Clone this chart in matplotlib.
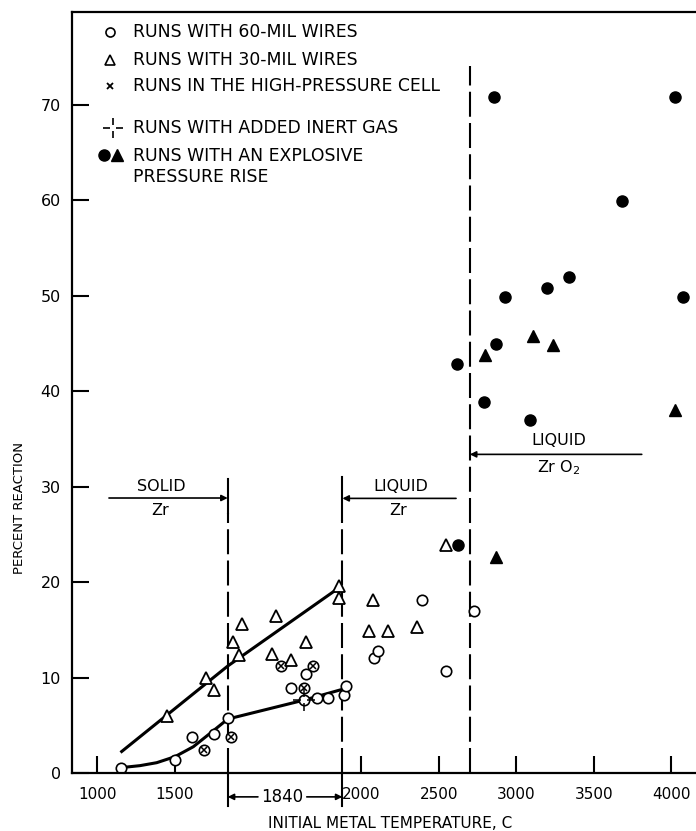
## Import Libraries
import numpy as np
import matplotlib.pyplot as plt
from matplotlib.path import Path


## Data
# x is the position on the broken temperature axis:
#   below 1840 it is the temperature in C, 1840..2580 is the stretched 1840 C band,
#   above the band it is temperature + GAP
GAP = 702
MELT_ZR, BAND_END, MELT_ZRO2 = 1840, 2580, 2700 + GAP
tick_temps = [1000, 1500, 2000, 2500, 3000, 3500, 4000]
tick_pos = [t if t < MELT_ZR else t + GAP for t in tick_temps]
y_ticks = [0, 10, 20, 30, 40, 50, 60, 70]

# runs with 60-mil wires (open circles)
wire60_x = [1150, 1500, 1607, 1753, 1840, 2246, 2345, 2414, 2485, 2590, 2603, 2784, 2812, 3092, 3246, 3431]
wire60_y = [0.55, 1.4, 3.8, 4.05, 5.8, 8.9, 10.4, 7.9, 7.9, 8.2, 9.1, 12.0, 12.8, 18.1, 10.7, 17.0]
# 60-mil runs in the high-pressure cell (circle with x)
hp60_x = [1689, 1861, 2184, 2388, 2334]
hp60_y = [2.4, 3.8, 11.2, 11.2, 8.9]
# 60-mil run with added inert gas
inert_x = [2334]
inert_y = [7.6]
# runs with 30-mil wires (open triangles)
wire30_x = [1446, 1700, 1753, 1872, 1934, 1913, 2151, 2124, 2345, 2248, 2558, 2558, 2751, 2780, 2876, 3063, 3246]
wire30_y = [6.0, 9.9, 8.7, 13.75, 15.6, 12.4, 16.4, 12.5, 13.7, 11.8, 19.6, 18.3, 14.9, 18.1, 14.9, 15.3, 23.9]
# runs with explosive pressure rise
expl60_x = [3560, 4725, 4382, 4044, 3898, 3631, 4780, 3571, 3322, 3496, 3790, 3324]
expl60_y = [70.8, 70.8, 59.9, 51.9, 50.8, 49.9, 49.8, 44.9, 42.8, 38.9, 37.0, 23.9]
expl30_x = [3502, 3808, 3940, 4728, 3571]
expl30_y = [43.8, 45.8, 44.85, 38.0, 22.6]
# hand-drawn trend lines
fit30_x = [1156, 1840, 2558]
fit30_y = [2.25, 11.2, 19.4]
fit60_x = [1150, 1274, 1382, 1500, 1618, 1753, 1840, 2334, 2603]
fit60_y = [0.56, 0.77, 1.08, 1.71, 2.75, 4.5, 5.65, 7.64, 8.87]


## Figure setup
plt.rcParams['font.family'] = 'DejaVu Sans'
fig = plt.figure(figsize=(6.96, 8.31), dpi=100)
ax = fig.add_axes([72 / 696, 58 / 831, 624 / 696, 761 / 831])
ax.set_xlim(835.5, 4861)
ax.set_ylim(0, 79.7)
for side in ['left', 'bottom', 'top']:
    ax.spines[side].set_linewidth(1.6)
ax.spines['right'].set_visible(False)
ax.set_xticks(tick_pos)
ax.set_xticklabels([str(t) for t in tick_temps])
ax.set_yticks(y_ticks)
ax.tick_params(axis='x', direction='in', length=12, width=1.5, labelsize=11, pad=10)
ax.tick_params(axis='y', direction='in', length=12, width=1.5, labelsize=11.5, pad=8)
ax.set_xlabel('INITIAL METAL TEMPERATURE, C', fontsize=11)
ax.xaxis.set_label_coords(0.51, -0.056)
ax.set_ylabel('PERCENT REACTION', fontsize=9.5)
ax.yaxis.set_label_coords(-0.073, 0.348)

# inert-gas marker: a plus with a gap in the middle
inert_marker = Path([(0, 0.25), (0, 1), (0, -0.25), (0, -1), (-1, 0), (-0.3, 0), (0.3, 0), (1, 0)],
                    [Path.MOVETO, Path.LINETO] * 4)


## Boundaries
dash = dict(color='k', lw=1.5, dashes=(12, 3))
ax.plot([MELT_ZR, MELT_ZR], [0, 27.2], **dash)
ax.plot([MELT_ZR, MELT_ZR], [27.2, 30.8], color='k', lw=1.5)
ax.plot([MELT_ZR, MELT_ZR], [0, -3.5], color='k', lw=1.5, clip_on=False)
ax.plot([BAND_END, BAND_END], [0, 26.5], **dash)
ax.plot([BAND_END, BAND_END], [26.5, 31.0], color='k', lw=1.5)
ax.plot([BAND_END, BAND_END], [0, -3.5], color='k', lw=1.5, clip_on=False)
ax.plot([MELT_ZRO2, MELT_ZRO2], [0, 74], **dash)

arrow = dict(arrowstyle='-|>', color='k', lw=1.2, mutation_scale=9, shrinkA=0, shrinkB=0)
ax.annotate('', xy=(MELT_ZR, 28.8), xytext=(1074, 28.8), arrowprops=arrow)
ax.text(1410, 30.05, 'SOLID', ha='center', va='center', fontsize=11.5)
ax.text(1405, 27.5, 'Zr', ha='center', va='center', fontsize=11.5)
ax.annotate('', xy=(BAND_END, 28.76), xytext=(3313, 28.76), arrowprops=arrow)
ax.text(2958, 30.0, 'LIQUID', ha='center', va='center', fontsize=11.5)
ax.text(2940, 27.5, 'Zr', ha='center', va='center', fontsize=11.5)
ax.annotate('', xy=(MELT_ZRO2, 33.37), xytext=(4511, 33.37), arrowprops=arrow)
ax.text(3977, 34.8, 'LIQUID', ha='center', va='center', fontsize=11.5)
ax.text(3977, 32.0, r'Zr O$_2$', ha='center', va='center', fontsize=11.5)
# melting band width note under the axis
ax.annotate('', xy=(MELT_ZR, -2.5), xytext=(2035, -2.5), arrowprops=arrow, annotation_clip=False)
ax.annotate('', xy=(BAND_END, -2.5), xytext=(2350, -2.5), arrowprops=arrow, annotation_clip=False)
ax.text(2193, -2.5, '1840', ha='center', va='center', fontsize=12, clip_on=False)


## Data marks
ax.plot(fit30_x, fit30_y, color='k', lw=2.2)
ax.plot(fit60_x, fit60_y, color='k', lw=2.2)
ms = 7.5
ax.plot(wire60_x, wire60_y, 'o', ms=ms, mfc='white', mec='k', mew=1.2, ls='none')
ax.plot(hp60_x, hp60_y, 'o', ms=ms, mfc='white', mec='k', mew=1.2, ls='none')
ax.plot(hp60_x, hp60_y, 'x', ms=4.5, mec='k', mew=1.1, ls='none')
ax.plot(inert_x, inert_y, 'o', ms=ms, mfc='white', mec='k', mew=1.2, ls='none')
ax.plot(inert_x, inert_y, marker=inert_marker, ms=16, mec='k', mew=1.1, ls='none')
ax.plot(wire30_x, wire30_y, '^', ms=8.5, mfc='white', mec='k', mew=1.3, ls='none')
ax.plot(expl60_x, expl60_y, 'o', ms=8, color='k', ls='none')
ax.plot(expl30_x, expl30_y, '^', ms=9, color='k', ls='none')


## Legend (drawn by hand, no frame)
tr = ax.transAxes
legend_rows = [0.9737, 0.9369, 0.9028, 0.8476, 0.8121]
legend_texts = ['RUNS WITH 60-MIL WIRES', 'RUNS WITH 30-MIL WIRES', 'RUNS IN THE HIGH-PRESSURE CELL',
                'RUNS WITH ADDED INERT GAS', 'RUNS WITH AN EXPLOSIVE\nPRESSURE RISE']
mx, tx = 0.061, 0.098
ax.plot([mx], [legend_rows[0]], 'o', ms=6.5, mfc='white', mec='k', mew=1.2, transform=tr)
ax.plot([mx], [legend_rows[1]], '^', ms=7, mfc='white', mec='k', mew=1.2, transform=tr)
ax.plot([mx], [legend_rows[2]], 'x', ms=5, mec='k', mew=1.3, transform=tr)
ax.plot([mx + 0.005], [legend_rows[3]], marker=inert_marker, ms=15, mec='k', mew=1.2, transform=tr)
ax.plot([mx - 0.01], [legend_rows[4]], 'o', ms=8, color='k', transform=tr)
ax.plot([mx + 0.011], [legend_rows[4]], '^', ms=8.5, color='k', transform=tr)
for row, label in zip(legend_rows, legend_texts):
    if '\n' in label:
        ax.text(tx, row + 0.0105, label, transform=tr, ha='left', va='top', fontsize=12.4, linespacing=1.2)
    else:
        ax.text(tx, row, label, transform=tr, ha='left', va='center', fontsize=12.4)

fig.savefig('out.png', dpi=100)
